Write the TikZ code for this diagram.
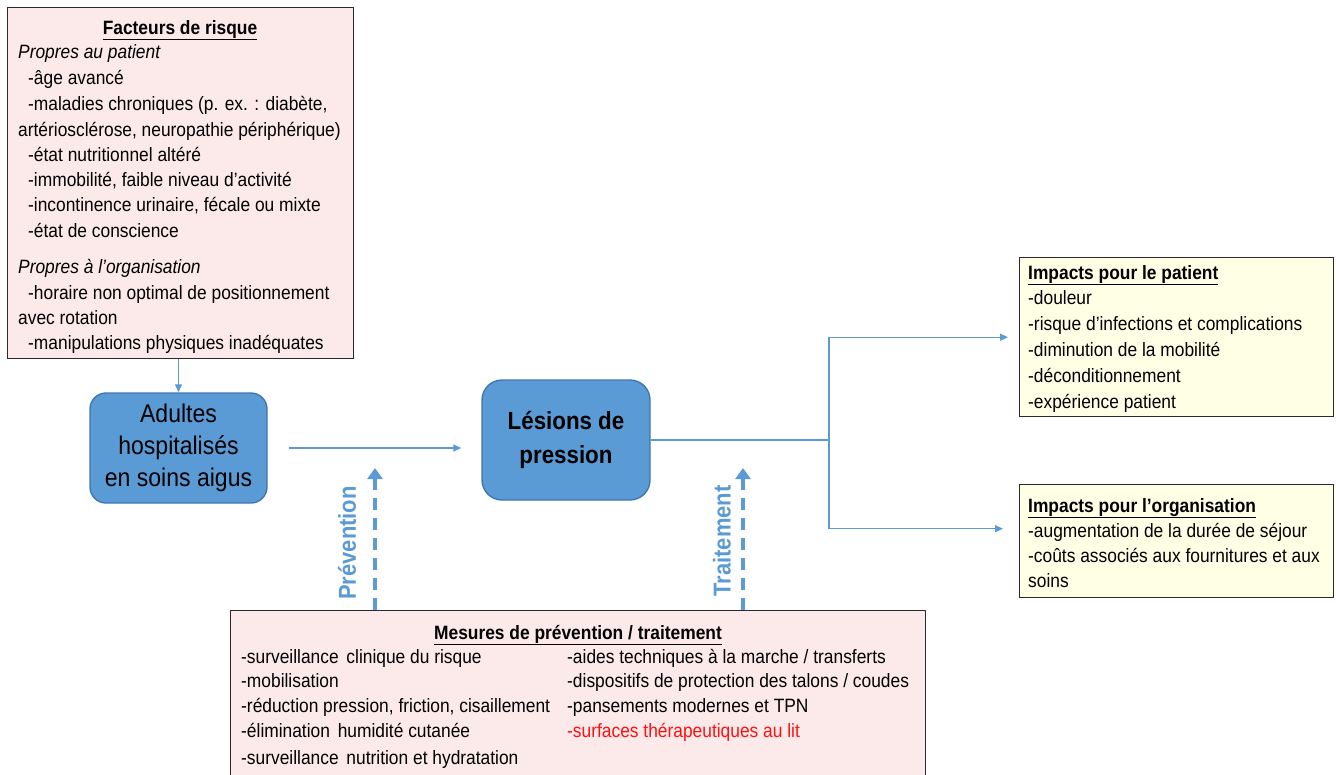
\documentclass[tikz,border=0pt]{standalone}
\usepackage{fontspec}
\setmainfont[FakeStretch=0.9]{Liberation Sans}
\usetikzlibrary{arrows.meta}
\definecolor{pinkfill}{HTML}{FCEAEA}
\definecolor{yellowfill}{HTML}{FFFFE6}
\definecolor{bluefill}{HTML}{5B9BD5}
\definecolor{blueedge}{HTML}{3F77B0}
\definecolor{lineblue}{HTML}{5B9BD5}
\definecolor{boxedge}{HTML}{2A2A2A}
\definecolor{redtext}{HTML}{FF1010}
\tikzset{
  infobox/.style={draw=boxedge, line width=1.4pt, anchor=north west, inner sep=0pt, rectangle},
  bluebox/.style={draw=blueedge, fill=bluefill, line width=1.4pt, rounded corners=16pt, inner sep=0pt, align=center},
  txt/.style={anchor=base west, inner sep=0pt, font=\fontsize{19.3}{22}\selectfont},
  ttl/.style={anchor=base, inner sep=0pt, font=\fontsize{19.3}{22}\selectfont\bfseries},
  conn/.style={draw=lineblue, line width=1.3pt, -{Triangle[length=8pt,width=7pt]}},
  dasharrow/.style={draw=lineblue, line width=3.6pt, dash pattern=on 12pt off 8pt, -{Triangle[length=11pt,width=15pt]}},
  vlabel/.style={rotate=90, text=lineblue, font=\fontsize{24.4}{26}\selectfont\bfseries, inner sep=0pt}
}
\begin{document}
\begin{tikzpicture}[x=1pt,y=-1pt]
\useasboundingbox (0,0) rectangle (1336,774);

% Risk factor box
\node[infobox, fill=pinkfill, minimum width=346pt, minimum height=351pt] (fk) at (7,7) {};
\node[ttl] (fk0) at (180,34) {\underline{Facteurs de risque}};
\node[txt] (fk1) at (18,58) {\itshape Propres au patient};
\node[txt] (fk2) at (28,84) {-âge avancé};
\node[txt] (fk3) at (28,110) {-maladies chroniques (p. ex. : diabète,};
\node[txt] (fk4) at (18,136) {artériosclérose, neuropathie périphérique)};
\node[txt] (fk5) at (28,161) {-état nutritionnel altéré};
\node[txt] (fk6) at (28,186) {-immobilité, faible niveau d’activité};
\node[txt] (fk7) at (28,211) {-incontinence urinaire, fécale ou mixte};
\node[txt] (fk8) at (28,237) {-état de conscience};
\node[txt] (fk9) at (18,273) {\itshape Propres à l’organisation};
\node[txt] (fk10) at (28,299) {-horaire non optimal de positionnement};
\node[txt] (fk11) at (18,324) {avec rotation};
\node[txt] (fk12) at (28,349) {-manipulations physiques inadéquates};

% Blue boxes
\node[bluebox, minimum width=177pt, minimum height=110pt, font=\fontsize{25.6}{32}\selectfont] (ad) at (178.5,448) {Adultes\\hospitalisés\\en soins aigus};
\node[bluebox, rounded corners=20pt, minimum width=168pt, minimum height=120pt, font=\fontsize{24.8}{34}\selectfont\bfseries] (les) at (566,440) {Lésions de\\pression};

% Impact boxes
\node[infobox, fill=yellowfill, minimum width=314pt, minimum height=159pt] (ip) at (1019,257) {};
\node[txt, font=\fontsize{19.3}{22}\selectfont\bfseries] (ip0) at (1028,279) {\underline{Impacts pour le patient}};
\node[txt] (ip1) at (1028,304) {-douleur};
\node[txt] (ip2) at (1028,330) {-risque d’infections et complications};
\node[txt] (ip3) at (1028,356) {-diminution de la mobilité};
\node[txt] (ip4) at (1028,382) {-déconditionnement};
\node[txt] (ip5) at (1028,408) {-expérience patient};

\node[infobox, fill=yellowfill, minimum width=314pt, minimum height=113pt] (io) at (1019,484) {};
\node[txt, font=\fontsize{19.3}{22}\selectfont\bfseries] (io0) at (1028,512) {\underline{Impacts pour l’organisation}};
\node[txt] (io1) at (1028,537) {-augmentation de la durée de séjour};
\node[txt] (io2) at (1028,562) {-coûts associés aux fournitures et aux};
\node[txt] (io3) at (1028,587) {soins};

% Measures box
\node[infobox, fill=pinkfill, minimum width=695pt, minimum height=170pt] (mp) at (230,610) {};
\node[ttl] (mp0) at (578,639) {\underline{Mesures de prévention / traitement}};
\node[txt] (mp1) at (241,663) {-surveillance\hspace{3pt} clinique du risque};
\node[txt] (mp2) at (241,687) {-mobilisation};
\node[txt] (mp3) at (241,712) {-réduction pression, friction, cisaillement};
\node[txt] (mp4) at (241,737) {-élimination\hspace{3pt} humidité cutanée};
\node[txt] (mp5) at (241,764) {-surveillance\hspace{3pt} nutrition et hydratation};
\node[txt] (mp6) at (567,663) {-aides techniques à la marche / transferts};
\node[txt] (mp7) at (567,687) {-dispositifs de protection des talons / coudes};
\node[txt] (mp8) at (567,712) {-pansements modernes et TPN};
\node[txt, text=redtext] (mp9) at (567,737) {-surfaces thérapeutiques au lit};

% Connectors
\draw[conn] (fk.south -| ad.north) -- (ad.north);
\draw[conn, shorten <=21pt, shorten >=20pt] (ad.east) -- (les.west |- ad.east);
\coordinate (branch) at (829,440);
\draw[draw=lineblue, line width=1.3pt] (les.east) -- (branch);
\draw[conn, shorten >=11pt] (branch) |- (ip.west);
\draw[conn, shorten >=16pt] (branch) |- ([yshift=12.5pt]io.west);

% Dashed arrows
\coordinate (prevtip) at (375,468);
\coordinate (traittip) at (743,468);
\draw[dasharrow] (mp.north -| prevtip) -- (prevtip);
\draw[dasharrow] (mp.north -| traittip) -- (traittip);
\node[vlabel] (prevlab) at (347,543) {Prévention};
\node[vlabel] (traitlab) at (722,541) {Traitement};
\end{tikzpicture}
\end{document}
